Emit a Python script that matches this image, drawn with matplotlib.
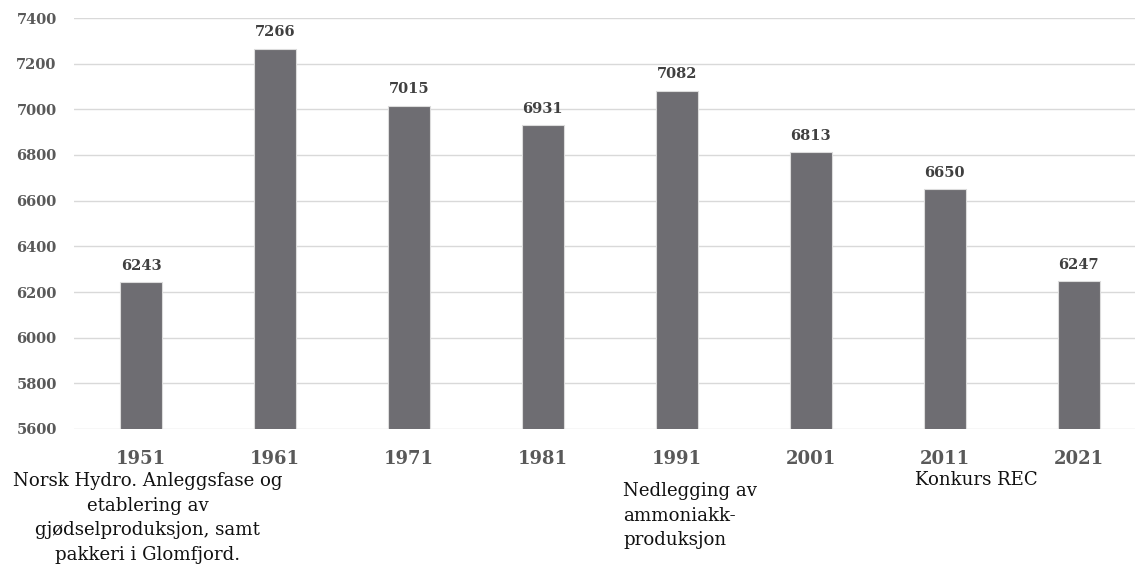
import matplotlib
matplotlib.use("Agg")
import matplotlib.pyplot as plt
import matplotlib.transforms as mtransforms

years = ["1951", "1961", "1971", "1981", "1991", "2001", "2011", "2021"]
values = [6243, 7266, 7015, 6931, 7082, 6813, 6650, 6247]
y_ticks = [5600, 5800, 6000, 6200, 6400, 6600, 6800, 7000, 7200, 7400]

notes = [
    "Norsk Hydro. Anleggsfase og\netablering av\ngjødselproduksjon, samt\npakkeri i Glomfjord.",
    "Nedlegging av\nammoniakk-\nproduksjon",
    "Konkurs REC",
]
note_index = [0, 4, 6]

plt.rcParams['font.family'] = ['DejaVu Serif']

fig = plt.figure(figsize=(11.36, 5.66), dpi=100)
ax = fig.add_axes([74/1136, 137/566, (1135-74)/1136, (429-18)/566])

x = list(range(len(years)))
ax.bar(x, values, width=0.315, color="#6e6d72", edgecolor="#dcdcdc",
       linewidth=0.8, zorder=3)

for xi, v in zip(x, values):
    ax.annotate(f"{v}", (xi, v), xytext=(0, 6.8), textcoords="offset points",
                ha="center", va="bottom", fontsize=10.5, fontweight="bold",
                color="#404040")

ax.set_ylim(5600, 7400)
ax.set_xlim(-0.5, 7.42)
ax.set_yticks(y_ticks)
ax.set_yticklabels([str(t) for t in y_ticks], fontsize=10.5,
                   fontweight="bold", color="#595959")
ax.set_xticks(x)
ax.set_xticklabels(years, fontsize=13, fontweight="bold", color="#595959")
ax.tick_params(axis="both", length=0)
ax.tick_params(axis="y", pad=12.5)
ax.tick_params(axis="x", pad=15)
for s in ax.spines.values():
    s.set_visible(False)
ax.yaxis.grid(True, color="#d9d9d9", linewidth=1.0, zorder=0)
ax.set_axisbelow(True)

trans = mtransforms.blended_transform_factory(ax.transData, fig.transFigure)
common = dict(transform=trans, va="top", fontsize=13.1, linespacing=1.47,
              color="#111111")
ax.text(note_index[0] + 0.05, 0.166, notes[0], ha="center",
        multialignment="center", **common)
ax.text(note_index[1] - 0.40, 0.148, notes[1], ha="left", **common)
ax.text(note_index[2] - 0.22, 0.167, notes[2], ha="left", **common)

fig.savefig("out.png", dpi=100)
